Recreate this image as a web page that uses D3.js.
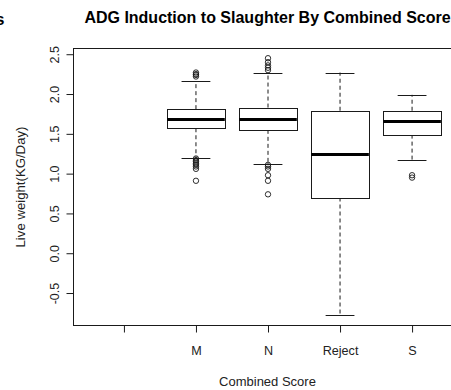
<!DOCTYPE html>
<html>
<head>
<meta charset="utf-8">
<script src="https://cdn.jsdelivr.net/npm/d3@7"></script>
<style>
  body { margin: 0; background: #fff; }
  svg { display: block; font-family: "Liberation Sans", Arial, sans-serif; }
</style>
</head>
<body>
<svg width="451" height="390"></svg>
<script>

// combined score groups (first level is blank, no data)
let categories = ['', 'M', 'N', 'Reject', 'S']

// five number summaries, one entry per category
let lowerWhisker = [null, 1.20, 1.12, -0.78, 1.17]
let q1 = [null, 1.57, 1.55, 0.70, 1.49]
let median = [null, 1.68, 1.68, 1.24, 1.655]
let q3 = [null, 1.81, 1.83, 1.79, 1.79]
let upperWhisker = [null, 2.16, 2.27, 2.27, 1.99]

let outliers = [
  [],
  [2.27, 2.25, 2.24, 2.22, 1.19, 1.17, 1.15, 1.13, 1.11, 1.09, 1.06, 0.91],
  [2.45, 2.40, 2.36, 2.33, 2.30, 1.11, 1.09, 1.06, 0.98, 0.91, 0.74],
  [],
  [0.98, 0.95]
]

let yTicks = [-0.5, 0, 0.5, 1, 1.5, 2, 2.5]

let svg = d3.select('svg')

let x = d3.scaleLinear().domain([0.3, categories.length + 0.7]).range([73.5, 462.5])
let y = d3.scaleLinear().domain([-0.908, 2.572]).range([325.5, 48.5])

let ink = '#1a1a1a'

// plot frame
svg.append('rect')
  .attr('x', x(0.3)).attr('y', y(2.572))
  .attr('width', x(categories.length + 0.7) - x(0.3))
  .attr('height', y(-0.908) - y(2.572))
  .attr('fill', 'none').attr('stroke', ink)

// y axis, labels turned like R's default las=0
let yAxis = d3.axisLeft(y).tickValues(yTicks).tickSize(7)
  .tickFormat(d => d3.format('.1f')(d).replace('−', '-'))
let yg = svg.append('g').attr('transform', `translate(${x(0.3)},0)`).call(yAxis)
yg.select('.domain').remove()
yg.selectAll('.tick line').attr('stroke', ink)
yg.selectAll('.tick text')
  .attr('font-size', 12.5).attr('fill', '#222')
  .attr('x', null).attr('y', null)
  .attr('text-anchor', 'middle')
  .attr('transform', 'translate(-18.5,0) rotate(-90)')

// x axis
let xAxis = d3.axisBottom(x).tickValues(d3.range(1, categories.length + 1))
  .tickSize(7).tickPadding(14)
  .tickFormat(d => categories[d - 1])
let xg = svg.append('g').attr('transform', `translate(0,${y(-0.908)})`).call(xAxis)
xg.select('.domain').remove()
xg.selectAll('.tick line').attr('stroke', ink)
xg.selectAll('.tick text').attr('font-size', 12.6).attr('fill', '#222')

// boxes
let half = 0.4
categories.forEach((c, i) => {
  if (median[i] === null) return
  let pos = i + 1
  let g = svg.append('g')

  // whiskers
  g.append('line')
    .attr('x1', x(pos)).attr('x2', x(pos))
    .attr('y1', y(q3[i])).attr('y2', y(upperWhisker[i]))
    .attr('stroke', ink).attr('stroke-dasharray', '4,3')
  g.append('line')
    .attr('x1', x(pos)).attr('x2', x(pos))
    .attr('y1', y(q1[i])).attr('y2', y(lowerWhisker[i]))
    .attr('stroke', ink).attr('stroke-dasharray', '4,3')

  // staples
  ;[upperWhisker[i], lowerWhisker[i]].forEach(v => {
    g.append('line')
      .attr('x1', x(pos - half / 2)).attr('x2', x(pos + half / 2))
      .attr('y1', Math.round(y(v)) + 0.5).attr('y2', Math.round(y(v)) + 0.5)
      .attr('stroke', ink)
  })

  // box
  g.append('rect')
    .attr('x', Math.round(x(pos - half)) + 0.5)
    .attr('y', Math.round(y(q3[i])) + 0.5)
    .attr('width', Math.round(x(pos + half) - x(pos - half)))
    .attr('height', Math.round(y(q1[i]) - y(q3[i])))
    .attr('fill', '#fff').attr('stroke', ink)

  // median
  g.append('line')
    .attr('x1', x(pos - half)).attr('x2', x(pos + half))
    .attr('y1', y(median[i])).attr('y2', y(median[i]))
    .attr('stroke', '#000').attr('stroke-width', 3)

  // outliers
  g.selectAll('circle')
    .data(outliers[i])
    .enter().append('circle')
    .attr('cx', x(pos)).attr('cy', d => y(d))
    .attr('r', 2.7)
    .attr('fill', 'none').attr('stroke', ink).attr('stroke-width', 0.9)
})

// titles
svg.append('text')
  .attr('x', 267.5).attr('y', 23)
  .attr('text-anchor', 'middle')
  .attr('font-size', 16).attr('font-weight', 'bold')
  .text('ADG Induction to Slaughter By Combined Score')

// tail of a neighbouring title, cut by the left edge as in the reference
svg.append('text')
  .attr('x', -4.5).attr('y', 25)
  .attr('font-size', 16).attr('font-weight', 'bold')
  .text('s')

svg.append('text')
  .attr('x', 267.5).attr('y', 386)
  .attr('text-anchor', 'middle')
  .attr('font-size', 13).attr('fill', '#222')
  .text('Combined Score')

svg.append('text')
  .attr('transform', `translate(24.5,${(y(2.572) + y(-0.908)) / 2}) rotate(-90)`)
  .attr('text-anchor', 'middle')
  .attr('font-size', 13.2).attr('fill', '#222')
  .text('Live weight(KG/Day)')

</script>
</body>
</html>
